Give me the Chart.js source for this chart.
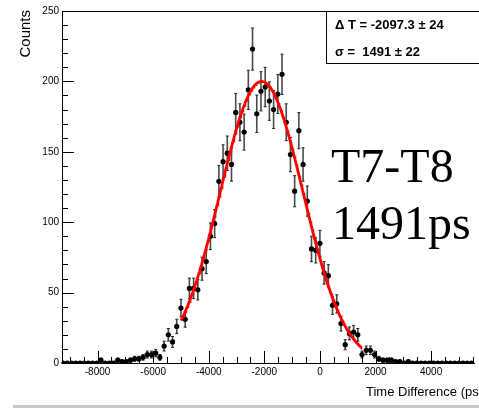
<!DOCTYPE html>
<html>
<head>
  <title>T7-T8 Time Difference</title>
  <script src="https://cdn.jsdelivr.net/npm/chart.js"></script>
  <style>
    html, body { margin: 0; padding: 0; background: #fff; overflow: hidden; }
  </style>
</head>
<body>
  <canvas id="tdChart" width="479" height="409"></canvas>

  <script>
    // histogram: bin centres start at firstBin, step binWidth (ps)
    const binWidth = 151.5;
    const firstBin = -9241.5;
    const counts = [
      0, 0, 0, 0, 0, 0, 0, 0, 0, 2,
      0, 0, 0, 2, 1, 1, 2, 3, 3, 4,
      6, 6, 7, 4, 12, 20, 15, 26, 39, 31,
      53, 53, 52, 67, 72, 90, 99, 129, 143, 149,
      141, 178, 171, 164, 194, 223, 177, 193, 196, 186,
      180, 191, 205, 171, 148, 122, 165, 141, 115, 81,
      80, 85, 64, 62, 41, 42, 28, 13, 21, 22,
      20, 6, 9, 9, 6, 3, 2, 2, 2, 1,
      1, 0, 1, 0, 0, 0, 0, 0, 0, 0,
      0, 0, 0, 0, 0, 0, 0, 0
    ];

    const xTicks = [-8000, -6000, -4000, -2000, 0, 2000, 4000];
    const yTicks = [0, 50, 100, 150, 200, 250];

    // gaus fit result
    const fitConst = 200;
    const fitMean = -2097.3;
    const fitSigma = 1491;
    const fitFrom = -5000;
    const fitTo = 1500;

    const statLines = ['\u0394 T = -2097.3 \u00b1 24', '\u03c3 =  1491 \u00b1 22'];
    const bigLabel = ['T7-T8', '1491ps'];

    const points = counts.map((c, i) => ({ x: firstBin + i * binWidth, y: c }));

    const fitPoints = [];
    for (let x = fitFrom; x <= fitTo; x += 25) {
      const t = (x - fitMean) / fitSigma;
      fitPoints.push({ x: x, y: fitConst * Math.exp(-0.5 * t * t) });
    }

    const SANS = '"Liberation Sans", Arial, Helvetica, sans-serif';
    const SERIF = '"Liberation Serif", "Times New Roman", serif';

    // ROOT-like frame, ticks, error bars and labels
    const rootStyle = {
      id: 'rootStyle',
      beforeDatasetsDraw(chart) {
        const ctx = chart.ctx;
        const xs = chart.scales.x, ys = chart.scales.y;
        ctx.save();
        points.forEach(p => {
          const px = xs.getPixelForValue(p.x);
          const py = ys.getPixelForValue(p.y);
          // horizontal bar = bin width
          ctx.strokeStyle = '#000';
          ctx.lineWidth = 1.2;
          ctx.beginPath();
          ctx.moveTo(xs.getPixelForValue(p.x - binWidth / 2), py);
          ctx.lineTo(xs.getPixelForValue(p.x + binWidth / 2), py);
          ctx.stroke();
          if (p.y > 0) {
            const err = Math.sqrt(p.y);
            const top = ys.getPixelForValue(p.y + err);
            const bot = ys.getPixelForValue(p.y - err);
            ctx.strokeStyle = '#4a4a4a';
            ctx.lineWidth = 1.6;
            ctx.beginPath();
            ctx.moveTo(px, top);
            ctx.lineTo(px, bot);
            ctx.stroke();
            ctx.strokeStyle = '#222';
            ctx.lineWidth = 1;
            ctx.beginPath();
            ctx.moveTo(px - 1.5, top); ctx.lineTo(px + 1.5, top);
            ctx.moveTo(px - 1.5, bot); ctx.lineTo(px + 1.5, bot);
            ctx.stroke();
          }
        });
        ctx.restore();
      },
      afterDraw(chart) {
        const ctx = chart.ctx;
        const a = chart.chartArea;
        const xs = chart.scales.x, ys = chart.scales.y;
        ctx.save();

        // frame lines
        ctx.strokeStyle = '#000';
        ctx.lineWidth = 1;
        ctx.beginPath();
        ctx.moveTo(a.left + 0.5, a.top + 0.5);
        ctx.lineTo(a.right, a.top + 0.5);
        ctx.moveTo(a.left + 0.5, a.top);
        ctx.lineTo(a.left + 0.5, a.bottom + 0.5);
        ctx.lineTo(a.right, a.bottom + 0.5);
        ctx.stroke();

        // y ticks
        ctx.beginPath();
        const yStep = yTicks[1] - yTicks[0];
        for (let v = yTicks[0]; v <= yTicks[yTicks.length - 1]; v += yStep / 5) {
          const py = Math.round(ys.getPixelForValue(v)) + 0.5;
          const len = (v % yStep === 0) ? 12 : 6;
          ctx.moveTo(a.left, py);
          ctx.lineTo(a.left + len, py);
        }
        // x ticks
        const xStep = xTicks[1] - xTicks[0];
        for (let v = Math.ceil(xs.min / (xStep / 4)) * (xStep / 4); v <= xs.max; v += xStep / 4) {
          const px = Math.round(xs.getPixelForValue(v)) + 0.5;
          const len = (v % xStep === 0) ? 12 : 6;
          ctx.moveTo(px, a.bottom);
          ctx.lineTo(px, a.bottom - len);
        }
        ctx.stroke();

        // tick labels
        ctx.fillStyle = '#000';
        ctx.font = '10px ' + SANS;
        ctx.textAlign = 'right';
        ctx.textBaseline = 'middle';
        yTicks.forEach(v => ctx.fillText(String(v), a.left - 3, ys.getPixelForValue(v)));
        ctx.textAlign = 'center';
        ctx.textBaseline = 'alphabetic';
        xTicks.forEach(v => ctx.fillText(String(v), xs.getPixelForValue(v), 375));

        // axis titles
        ctx.font = '13px ' + SANS;
        ctx.textAlign = 'left';
        ctx.fillText('Time Difference (ps)', 366, 396);
        ctx.save();
        ctx.translate(29.5, 10);
        ctx.rotate(-Math.PI / 2);
        ctx.font = '15px ' + SANS;
        ctx.textAlign = 'right';
        ctx.fillText('Counts', 0, 0);
        ctx.restore();

        // stat box
        ctx.fillStyle = '#fff';
        ctx.fillRect(326.5, 11.5, 200, 52);
        ctx.strokeStyle = '#000';
        ctx.strokeRect(326.5, 11.5, 200, 52);
        ctx.fillStyle = '#000';
        ctx.font = 'bold 13px ' + SANS;
        ctx.textAlign = 'left';
        ctx.fillText(statLines[0], 335, 29);
        ctx.fillText(statLines[1], 335, 56);

        // big label
        ctx.font = '48px ' + SERIF;
        ctx.fillText(bigLabel[0], 331, 182);
        ctx.fillText(bigLabel[1], 332, 239);

        // grey canvas edge at the bottom
        ctx.fillStyle = '#c8c8c8';
        ctx.fillRect(13, 405, 466, 3);
        ctx.restore();
      }
    };

    const ctx = document.getElementById('tdChart').getContext('2d');
    new Chart(ctx, {
      type: 'scatter',
      data: {
        datasets: [
          {
            type: 'line',
            label: 'gaus fit',
            data: fitPoints,
            borderColor: '#ff0000',
            borderWidth: 2.8,
            pointRadius: 0,
            fill: false,
            tension: 0,
            order: 0
          },
          {
            label: 'Counts',
            data: points,
            pointRadius: 2.6,
            pointBackgroundColor: '#000',
            pointBorderWidth: 0,
            showLine: false,
            order: 1
          }
        ]
      },
      options: {
        responsive: false,
        animation: false,
        devicePixelRatio: 1,
        layout: { padding: { left: 62, top: 11, right: 0, bottom: 46 } },
        scales: {
          x: { type: 'linear', min: -9280, max: 5580, display: false },
          y: { type: 'linear', min: 0, max: 250, display: false }
        },
        plugins: {
          legend: { display: false },
          tooltip: { enabled: false }
        }
      },
      plugins: [rootStyle]
    });
  </script>
</body>
</html>
